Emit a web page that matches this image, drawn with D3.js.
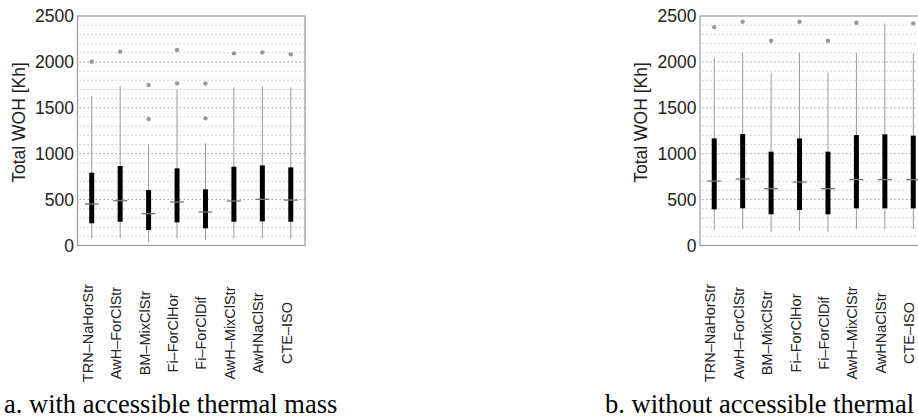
<!DOCTYPE html>
<html>
<head>
<meta charset="utf-8">
<script src="https://cdn.jsdelivr.net/npm/d3@7"></script>
<style>
  body { margin: 0; background: #fff; }
  svg { display: block; }
</style>
</head>
<body>
<div id="chart"></div>
<script>
const names = ["TRN–NaHorStr", "AwH–ForClStr", "BM–MixClStr", "Fi–ForClHor",
               "Fi–ForClDif", "AwH–MixClStr", "AwHNaClStr", "CTE–ISO"]
const yTicks = [0, 500, 1000, 1500, 2000, 2500]

// a. with accessible thermal mass
const aLow  = [78, 78, 41, 78, 60, 78, 78, 72]
const aQ1   = [242, 259, 169, 252, 187, 259, 263, 259]
const aMed  = [452, 488, 346, 474, 365, 485, 503, 495]
const aQ3   = [793, 866, 604, 840, 612, 858, 873, 851]
const aHigh = [1628, 1737, 1105, 1701, 1113, 1723, 1737, 1723]
const aOut  = [[2002], [2111], [1748, 1378], [2129, 1766], [1766, 1385], [2093], [2104], [2082]]

// b. without accessible thermal mass (cropped at the right edge in the original)
const bLow  = [169, 176, 143, 158, 150, 176, 176, 176]
const bQ1   = [394, 405, 340, 387, 340, 405, 405, 405]
const bMed  = [702, 724, 619, 691, 619, 717, 717, 717]
const bQ3   = [1167, 1214, 1022, 1167, 1022, 1203, 1211, 1196]
const bHigh = [2049, 2100, 1882, 2100, 1882, 2100, 2420, 2093]
const bOut  = [[2379], [2437], [2230], [2437], [2230], [2426], [], [2420]]

const W = 918, H = 419
const plotTop = 16, plotBottom = 245.5, plotW = 227.5

const svg = d3.select("#chart").append("svg")
  .attr("width", W).attr("height", H)
  .style("font-family", "'Liberation Sans', Arial, sans-serif")

svg.append("rect").attr("width", W).attr("height", H).attr("fill", "#fff")

const y = d3.scaleLinear().domain([0, 2500]).range([plotBottom, plotTop])

function panel(left, low, q1, med, q3, high, out, caption, capX) {
  const x = d3.scaleBand().domain(names).range([left, left + plotW]).padding(0)
  const g = svg.append("g")

  // dotted grid every 100
  const grid = d3.range(100, 2500, 100)
  g.selectAll(".grid").data(grid).enter().append("line")
    .attr("x1", left + 2).attr("x2", left + plotW)
    .attr("y1", d => y(d)).attr("y2", d => y(d))
    .attr("stroke", d => d % 500 === 0 ? "#9a9a9a" : "#c8c8c8")
    .attr("stroke-width", 1)
    .attr("stroke-dasharray", "1.5,2.5")

  // frame
  g.append("rect")
    .attr("x", left).attr("y", plotTop)
    .attr("width", plotW).attr("height", plotBottom - plotTop)
    .attr("fill", "none").attr("stroke", "#9a9a9a").attr("stroke-width", 1.2)

  // y axis labels
  const yAxis = d3.axisLeft(y).tickValues(yTicks).tickFormat(d3.format("d"))
    .tickSize(0).tickPadding(3.5)
  const ya = g.append("g").attr("transform", "translate(" + left + ",0)").call(yAxis)
  ya.select(".domain").remove()
  ya.selectAll("text")
    .style("font-family", "'Liberation Sans', Arial, sans-serif")
    .style("font-size", "17.5px").attr("fill", "#222")

  g.append("text")
    .attr("transform", "translate(" + (left - 53) + "," + 122.5 + ") rotate(-90)")
    .attr("text-anchor", "middle")
    .style("font-size", "17.5px").attr("fill", "#222")
    .text("Total WOH [Kh]")

  const cx = i => x(names[i]) + x.bandwidth() / 2

  names.forEach((n, i) => {
    const c = cx(i)
    // whisker
    g.append("line")
      .attr("x1", c).attr("x2", c)
      .attr("y1", y(low[i])).attr("y2", y(high[i]))
      .attr("stroke", "#9a9a9a").attr("stroke-width", 1)
    // box
    g.append("rect")
      .attr("x", c - 2.5).attr("width", 5)
      .attr("y", y(q3[i])).attr("height", y(q1[i]) - y(q3[i]))
      .attr("fill", "#000")
    // median
    g.append("line")
      .attr("x1", c - 7).attr("x2", c + 7)
      .attr("y1", y(med[i])).attr("y2", y(med[i]))
      .attr("stroke", "#777").attr("stroke-width", 1.3)
    // outliers
    out[i].forEach(v => {
      g.append("circle")
        .attr("cx", c).attr("cy", y(v)).attr("r", 2.2)
        .attr("fill", "#999")
    })
    // category label
    g.append("text")
      .attr("transform", "translate(" + (c + 1) + ",333) rotate(-90)")
      .attr("text-anchor", "middle")
      .style("font-size", "14.5px").attr("fill", "#222")
      .text(n)
  })

  svg.append("text")
    .attr("x", capX).attr("y", 413)
    .style("font-family", "'Liberation Serif', 'Times New Roman', serif")
    .style("font-size", "26.5px").attr("fill", "#000")
    .text(caption)
}

panel(77.5, aLow, aQ1, aMed, aQ3, aHigh, aOut, "a. with accessible thermal mass", 4)
panel(700, bLow, bQ1, bMed, bQ3, bHigh, bOut, "b. without accessible thermal", 605)
</script>
</body>
</html>
